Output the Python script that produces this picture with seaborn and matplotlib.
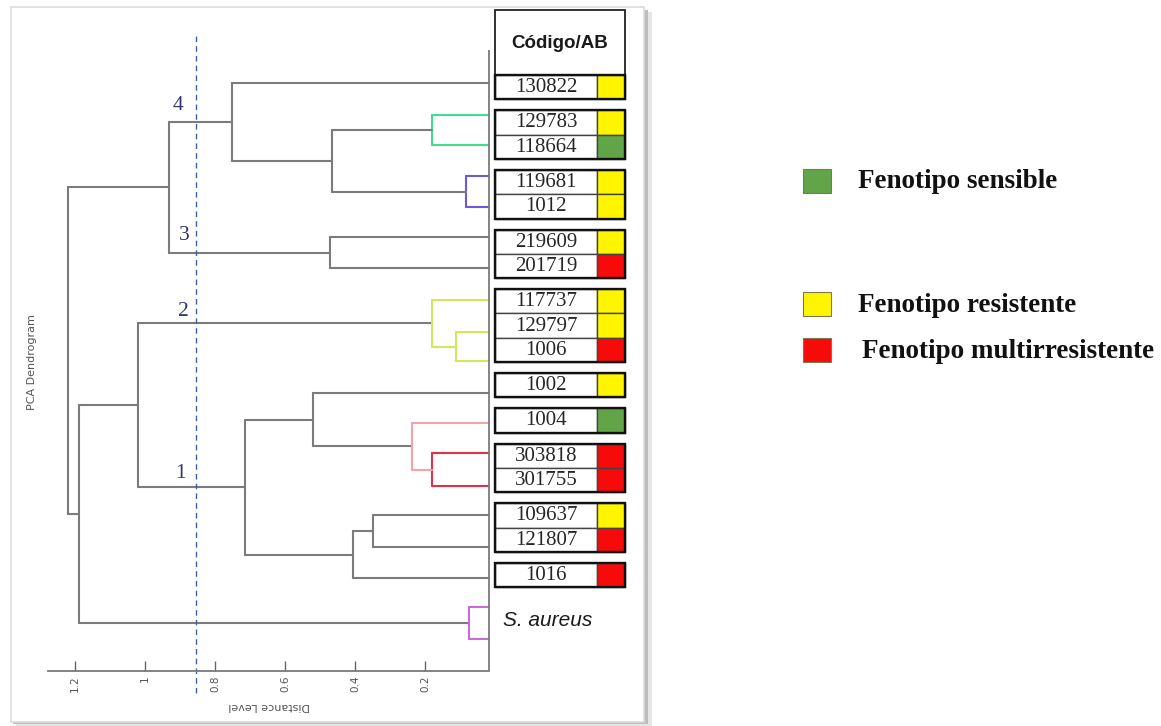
import matplotlib
matplotlib.use("Agg")
import matplotlib.pyplot as plt
from matplotlib.patches import Rectangle
import seaborn as sns
import pandas as pd

# ---------------- data ----------------
leaf_labels = ["130822", "129783", "118664", "119681", "1012", "219609", "201719",
               "117737", "129797", "1006", "1002", "1004", "303818", "301755",
               "109637", "121807", "1016", "S. aureus a", "S. aureus b"]
leaf_y = [83, 115, 145, 176, 207, 237, 268, 300, 332, 361, 393, 423, 453, 486,
          515, 547, 578, 607, 639]
leaf_end = 0.017

# merges: children index (leaves 0..18, internal nodes 19..), height, colour group
merge_left = [1, 3, 19, 0, 5, 22, 8, 7, 12, 11, 10, 14, 30, 29, 26, 17, 33, 24]
merge_right = [2, 4, 20, 21, 6, 23, 9, 25, 13, 27, 28, 15, 16, 31, 32, 18, 34, 35]
merge_height = [0.18, 0.083, 0.466, 0.751, 0.471, 0.931, 0.111, 0.18, 0.18, 0.237,
                0.52, 0.349, 0.406, 0.714, 1.02, 0.074, 1.189, 1.22]
merge_group = ["green", "blue", "grey", "grey", "grey", "grey", "lime", "lime", "red",
               "pink", "grey", "grey", "grey", "grey", "grey", "magenta", "grey", "grey"]

codes = ["130822", "129783", "118664", "119681", "1012", "219609", "201719", "117737",
         "129797", "1006", "1002", "1004", "303818", "301755", "109637", "121807", "1016"]
phenotype = ["R", "R", "S", "R", "R", "R", "M", "R", "R", "M", "R", "S", "M", "M", "R", "M", "M"]
code_group = [1, 2, 2, 3, 3, 4, 4, 5, 5, 5, 6, 7, 8, 8, 9, 9, 10]

legend_keys = ["S", "R", "M"]
legend_labels = ["Fenotipo sensible", "Fenotipo resistente", "Fenotipo multirresistente"]
cluster_names = ["4", "3", "2", "1"]
cluster_pos_d = [0.906, 0.889, 0.889, 0.900]
cluster_pos_y = [105, 236, 311, 473]
distance_ticks = [1.2, 1.0, 0.8, 0.6, 0.4, 0.2]
distance_tick_labels = ["1.2", "1", "0.8", "0.6", "0.4", "0.2"]
cut_height = 0.854

# ---------------- styles ----------------
line_palette = {"grey": "#7b7b7b", "green": "#3fe08c", "blue": "#6a5ad8",
                "lime": "#cdea5a", "red": "#e3304a", "pink": "#f4a3ab",
                "magenta": "#c86ad8"}
pheno_colors = {"S": "#62a548", "R": "#fff500", "M": "#f70a0a"}

sns.set_theme(style="white")
plt.rcParams["font.family"] = ["DejaVu Sans"]

W, H = 1161, 726
fig = plt.figure(figsize=(W / 100, H / 100), dpi=100)
fig.patch.set_facecolor("white")

# background / table / legend axes in pixel units
ax_bg = fig.add_axes([0, 0, 1, 1])
ax_bg.set_xlim(0, W)
ax_bg.set_ylim(H, 0)
ax_bg.axis("off")

# panel frame with shadow
ax_bg.add_patch(Rectangle((16, 12), 636, 714, facecolor="#e6e6e6", edgecolor="none", zorder=0))
ax_bg.add_patch(Rectangle((13, 10), 635, 714, facecolor="#bdbdbd", edgecolor="none", zorder=0.1))
ax_bg.add_patch(Rectangle((11, 7), 633, 715, facecolor="white", edgecolor="#dcdcdc",
                          linewidth=1.2, zorder=0.2))

# ---------------- dendrogram ----------------
x_left_px, x_right_px = 48, 495
px_per_unit = 350.0
d_left = (x_right_px - x_left_px) / px_per_unit
ax_d = fig.add_axes([x_left_px / W, 0, (x_right_px - x_left_px) / W, 1])
ax_d.patch.set_alpha(0)

node_y = list(leaf_y)
node_h = [leaf_end] * len(leaf_y)
rows = []
for k, (l, r, h, g) in enumerate(zip(merge_left, merge_right, merge_height, merge_group)):
    yl, yr = node_y[l], node_y[r]
    rows += [(f"{k}v", h, yl, g), (f"{k}v", h, yr, g)]
    rows += [(f"{k}l", h, yl, g), (f"{k}l", node_h[l], yl, g)]
    rows += [(f"{k}r", h, yr, g), (f"{k}r", node_h[r], yr, g)]
    node_y.append((yl + yr) / 2)
    node_h.append(h)
seg_df = pd.DataFrame(rows, columns=["seg", "d", "y", "grp"])

sns.lineplot(data=seg_df, x="d", y="y", units="seg", hue="grp", palette=line_palette,
             estimator=None, sort=False, legend=False, linewidth=1.5, ax=ax_d)

ax_d.set_xlim(d_left, 0)
ax_d.set_ylim(H, 0)
ax_d.set_xlabel("")
ax_d.set_ylabel("")
ax_d.set_yticks([])
for s in ["left", "right", "top"]:
    ax_d.spines[s].set_visible(False)
ax_d.spines["bottom"].set_position(("data", 671))
ax_d.spines["bottom"].set_bounds(d_left, leaf_end)
ax_d.spines["bottom"].set_color("#7b7b7b")
ax_d.spines["bottom"].set_linewidth(1.3)
ax_d.set_xticks(distance_ticks)
ax_d.set_xticklabels(distance_tick_labels, rotation=90, fontsize=7.5, color="#555555")
ax_d.tick_params(axis="x", direction="in", length=7, width=1, colors="#666666", pad=3,
                 bottom=True)
for t in ax_d.get_xticklabels():
    t.set_color("#555555")

# right vertical border line of the dendrogram
ax_d.vlines(leaf_end, 50, 671, color="#7b7b7b", linewidth=1.3)
# cut line
ax_d.vlines(cut_height, 36, 697, color="#3d5ea8", linewidth=1.0, linestyles=(0, (4, 3)))

for name, dx, yy in zip(cluster_names, cluster_pos_d, cluster_pos_y):
    ax_d.text(dx, yy, name, ha="center", va="center", fontsize=15.5,
              family="Liberation Serif", color="#2f3572")

ax_d.text((x_right_px - 269) / px_per_unit, 706, "Distance Level", rotation=180,
          ha="center", va="center", fontsize=8, color="#555555")
ax_bg.text(32, 362, "PCA Dendrogram", rotation=90, ha="center", va="center",
           fontsize=8, color="#555555")

# ---------------- table ----------------
tx0, tx1, tx_split = 495, 625, 597
row_h, gap, top0 = 24.3, 11.0, 75.0

# header
ax_bg.add_patch(Rectangle((tx0, 10), tx1 - tx0, top0 - 10, facecolor="white",
                          edgecolor="#222222", linewidth=1.3, zorder=2))
ax_bg.text((tx0 + tx1) / 2, 43, "Código/AB", ha="center", va="center", fontsize=13.5,
           fontweight="bold", family="Liberation Sans", color="#1a1a1a", zorder=3)

y = top0
prev_group = code_group[0]
group_top = {}
group_bot = {}
for code, ph, grp in zip(codes, phenotype, code_group):
    if grp != prev_group:
        y += gap
        prev_group = grp
    group_top.setdefault(grp, y)
    ax_bg.add_patch(Rectangle((tx0, y), tx_split - tx0, row_h, facecolor="white",
                              edgecolor="#444444", linewidth=1.0, zorder=2))
    ax_bg.add_patch(Rectangle((tx_split, y), tx1 - tx_split, row_h,
                              facecolor=pheno_colors[ph], edgecolor="#444444",
                              linewidth=1.0, zorder=2))
    ax_bg.text((tx0 + tx_split) / 2, y + row_h / 2 + 0.5, code, ha="center", va="center",
               fontsize=15, family="Liberation Serif", color="#262626", zorder=3)
    y += row_h
    group_bot[grp] = y

for grp in group_top:
    ax_bg.add_patch(Rectangle((tx0, group_top[grp]), tx1 - tx0,
                              group_bot[grp] - group_top[grp], facecolor="none",
                              edgecolor="#111111", linewidth=1.7, zorder=4))

ax_bg.text(503, 621, "S. aureus", ha="left", va="center", fontsize=15,
           style="italic", family="Liberation Sans", color="#1a1a1a")

# ---------------- legend ----------------
leg_y = [169, 292, 338]
leg_text_x = [858, 858, 862]
for key, lab, yy, tx in zip(legend_keys, legend_labels, leg_y, leg_text_x):
    ax_bg.add_patch(Rectangle((803, yy), 28, 24, facecolor=pheno_colors[key],
                              edgecolor="#7a7a50", linewidth=0.8, zorder=2))
    ax_bg.text(tx, yy + 13, lab, ha="left", va="center", fontsize=19.5,
               fontweight="bold", family="Liberation Serif", color="#111111")

fig.savefig("out.png", dpi=100, facecolor="white")
